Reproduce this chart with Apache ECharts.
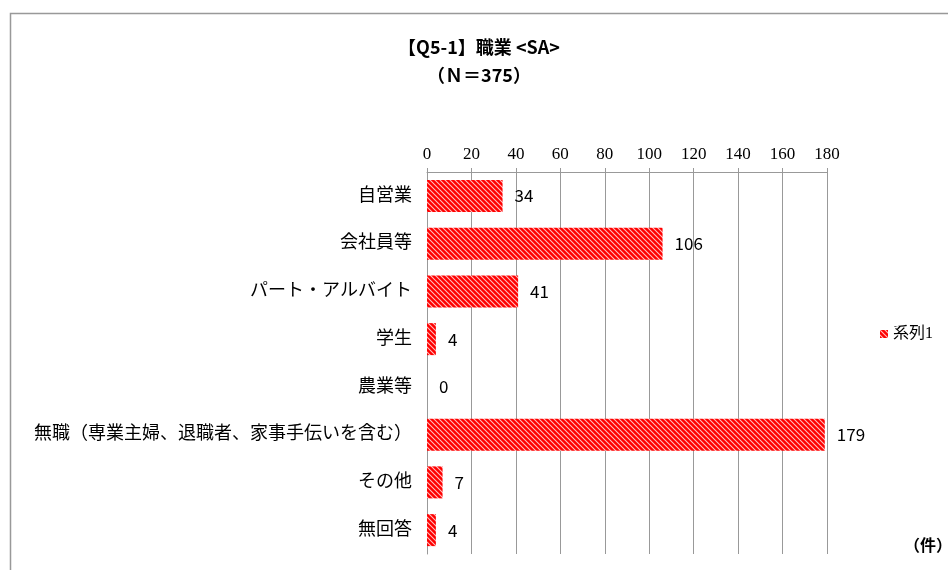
<!DOCTYPE html>
<html><head><meta charset="utf-8">
<script src="https://cdn.jsdelivr.net/npm/echarts@6/dist/echarts.min.js"></script>
<style>html,body{margin:0;padding:0;background:#fff}#c{width:948px;height:570px}</style>
</head><body><div id="c"></div>
<script>
var categories = ["自営業","会社員等","パート・アルバイト","学生","農業等","無職（専業主婦、退職者、家事手伝いを含む）","その他","無回答"];
var values = [34,106,41,4,0,179,7,4];
var xTicks = {min:0, max:180, interval:20};
var seriesName = "系列1";

function makePattern(){
  var c = document.createElement('canvas');
  c.width = 5; c.height = 5;
  var g = c.getContext('2d');
  g.fillStyle = '#ff0000'; g.fillRect(0,0,5,5);
  g.strokeStyle = 'rgba(255,200,200,0.95)'; g.lineWidth = 1.1;
  g.beginPath();
  g.moveTo(-1,-1); g.lineTo(6,6);
  g.moveTo(-6,-1); g.lineTo(1,6);
  g.moveTo(4,-1); g.lineTo(11,6);
  g.stroke();
  return c;
}
var pat = {image: makePattern(), repeat: 'repeat'};

var chart = echarts.init(document.getElementById('c'), null, {renderer:'canvas'});
var serif = '"Liberation Serif","Noto Sans CJK JP",serif';
var gothic = '"Noto Sans CJK JP","DejaVu Sans",sans-serif';
chart.setOption({
  animation:false,
  backgroundColor:'#fff',
  title:{
    text:'【Q5-1】職業 <SA>\n（Ｎ＝375）',
    left:474, top:28, textAlign:'center',
    textStyle:{fontFamily:gothic, fontSize:18, fontWeight:'bold', color:'#000', lineHeight:28, align:'center'}
  },
  legend:{
    data:[{name:seriesName, icon:'rect'}],
    left:875, top:321, itemWidth:8, itemHeight:8, itemGap:4,
    textStyle:{fontFamily:serif, fontSize:16, color:'#000'}
  },
  grid:{left:427, right:121, top:172, bottom:16, containLabel:false},
  xAxis:{
    type:'value', position:'top', min:xTicks.min, max:xTicks.max, interval:xTicks.interval,
    axisLine:{show:true, lineStyle:{color:'#999', width:1}},
    axisTick:{show:true, length:4, lineStyle:{color:'#999'}},
    axisLabel:{fontFamily:serif, fontSize:17, color:'#000', margin:9},
    splitLine:{show:true, lineStyle:{color:'#999', width:1}}
  },
  yAxis:{
    type:'category', inverse:true, data:categories,
    axisLine:{show:true, lineStyle:{color:'#999'}},
    axisTick:{show:false},
    axisLabel:{fontFamily:serif, fontSize:18, color:'#000', margin:15}
  },
  series:[{
    name:seriesName, type:'bar', data:values, barWidth:32,
    itemStyle:{color:pat},
    label:{show:true, position:'right', distance:12, fontFamily:gothic, fontSize:17, color:'#000'}
  }],
  graphic:[
    {type:'rect', shape:{x:10.5, y:13.5, width:1000, height:1000}, style:{fill:'none', stroke:'#999', lineWidth:1.5}, silent:true},
    {type:'text', left:904, top:537, style:{text:'（件）', font:'bold 16px "Noto Sans CJK JP"', fill:'#000'}}
  ]
});
</script></body></html>
